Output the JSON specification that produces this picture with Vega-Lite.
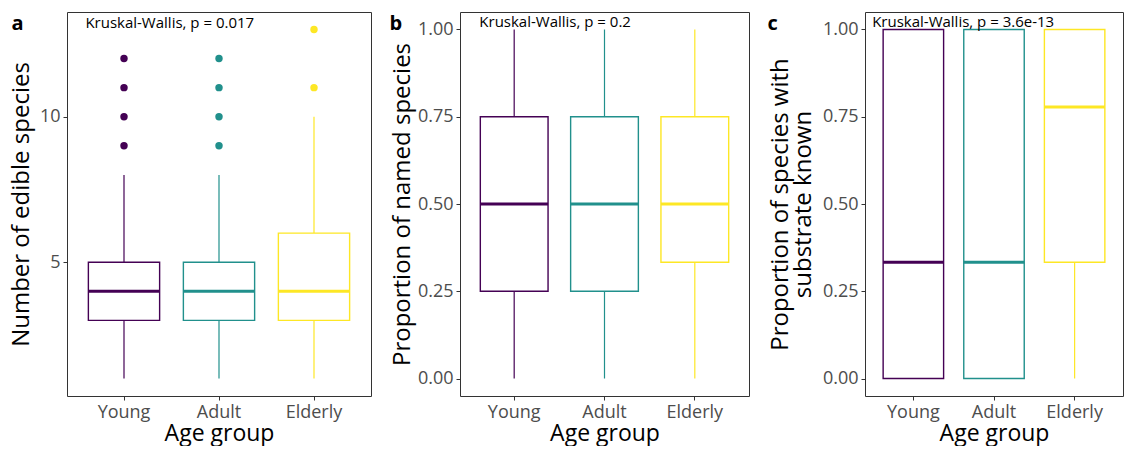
{
  "$schema": "https://vega.github.io/schema/vega-lite/v6.json",
  "padding": {"left": 8, "top": 11, "right": 0, "bottom": 0},
  "config": {
    "font": "Open Sans",
    "view": {"stroke": "#333333", "strokeWidth": 1},
    "axis": {"domain": false, "grid": false, "tickColor": "#333333", "tickSize": 4, "labelColor": "#4D4D4D", "labelFontSize": 18, "titleFontSize": 24, "titleFontWeight": "normal", "titleColor": "black", "labelFont": "Open Sans", "titleFont": "Open Sans", "labelPadding": 3},
    "axisX": {"titleFontSize": 23},
    "title": {"fontSize": 20, "fontWeight": "bold", "anchor": "start", "frame": "bounds", "offset": -22, "baseline": "top", "color": "black"},
    "concat": {"spacing": 16}
  },
  "datasets": {
    "boxA": [
      {"group": "Young", "lower": 1, "q1": 3, "median": 4, "q3": 5, "upper": 8},
      {"group": "Adult", "lower": 1, "q1": 3, "median": 4, "q3": 5, "upper": 8},
      {"group": "Elderly", "lower": 1, "q1": 3, "median": 4, "q3": 6, "upper": 10}
    ],
    "outA": [
      {"group": "Young", "value": 9}, {"group": "Young", "value": 10}, {"group": "Young", "value": 11}, {"group": "Young", "value": 12},
      {"group": "Adult", "value": 9}, {"group": "Adult", "value": 10}, {"group": "Adult", "value": 11}, {"group": "Adult", "value": 12},
      {"group": "Elderly", "value": 11}, {"group": "Elderly", "value": 13}
    ],
    "boxB": [
      {"group": "Young", "lower": 0, "q1": 0.25, "median": 0.5, "q3": 0.75, "upper": 1},
      {"group": "Adult", "lower": 0, "q1": 0.25, "median": 0.5, "q3": 0.75, "upper": 1},
      {"group": "Elderly", "lower": 0, "q1": 0.333, "median": 0.5, "q3": 0.75, "upper": 1}
    ],
    "boxC": [
      {"group": "Young", "lower": 0, "q1": 0, "median": 0.333, "q3": 1, "upper": 1},
      {"group": "Adult", "lower": 0, "q1": 0, "median": 0.333, "q3": 1, "upper": 1},
      {"group": "Elderly", "lower": 0, "q1": 0.333, "median": 0.778, "q3": 1, "upper": 1}
    ]
  },
  "hconcat": [
    {
      "width": 304, "height": 384,
      "title": {"text": "a", "dx": 2},
      "layer": [
        {"data": {"name": "boxA"}, "mark": {"type": "rule", "strokeWidth": 1.2},
         "encoding": {
           "x": {"field": "group", "type": "nominal", "sort": ["Young", "Adult", "Elderly"], "scale": {"domain": ["Young", "Adult", "Elderly"], "paddingInner": 0.25, "paddingOuter": 0.225}, "axis": {"title": "Age group", "labelAngle": 0, "titlePadding": 1}},
           "y": {"field": "lower", "type": "quantitative", "scale": {"domain": [0.4, 13.6], "nice": false, "zero": false}, "axis": {"title": "Number of edible species", "values": [5, 10], "titlePadding": 6}},
           "y2": {"field": "upper"},
           "color": {"field": "group", "type": "nominal", "scale": {"domain": ["Young", "Adult", "Elderly"], "range": ["#440154", "#21908C", "#FDE725"]}, "legend": null}
         }},
        {"data": {"name": "boxA"}, "mark": {"type": "bar", "fill": "white", "strokeWidth": 1.4},
         "encoding": {
           "x": {"field": "group", "type": "nominal", "sort": ["Young", "Adult", "Elderly"]},
           "y": {"field": "q1", "type": "quantitative"},
           "y2": {"field": "q3"},
           "stroke": {"field": "group", "type": "nominal", "scale": {"domain": ["Young", "Adult", "Elderly"], "range": ["#440154", "#21908C", "#FDE725"]}, "legend": null}
         }},
        {"data": {"name": "boxA"}, "mark": {"type": "tick", "thickness": 3, "opacity": 1},
         "encoding": {
           "x": {"field": "group", "type": "nominal", "sort": ["Young", "Adult", "Elderly"]},
           "y": {"field": "median", "type": "quantitative"},
           "color": {"field": "group", "type": "nominal", "legend": null}
         }},
        {"data": {"name": "outA"}, "mark": {"type": "circle", "size": 55, "opacity": 1},
         "encoding": {
           "x": {"field": "group", "type": "nominal", "sort": ["Young", "Adult", "Elderly"]},
           "y": {"field": "value", "type": "quantitative"},
           "color": {"field": "group", "type": "nominal", "legend": null}
         }},
        {"data": {"values": [{"label": "Kruskal-Wallis, p = 0.017"}]}, "mark": {"type": "text", "align": "left", "baseline": "middle", "fontSize": 15, "dx": -3, "color": "black"},
         "encoding": {
           "x": {"datum": "Young", "type": "nominal", "bandPosition": 0},
           "y": {"datum": 13.22, "type": "quantitative"},
           "text": {"field": "label"}
         }}
      ]
    },
    {
      "width": 289, "height": 384,
      "title": {"text": "b", "dx": -1},
      "layer": [
        {"data": {"name": "boxB"}, "mark": {"type": "rule", "strokeWidth": 1.2},
         "encoding": {
           "x": {"field": "group", "type": "nominal", "sort": ["Young", "Adult", "Elderly"], "scale": {"domain": ["Young", "Adult", "Elderly"], "paddingInner": 0.25, "paddingOuter": 0.225}, "axis": {"title": "Age group", "labelAngle": 0, "titlePadding": 1}},
           "y": {"field": "lower", "type": "quantitative", "scale": {"domain": [-0.05, 1.05], "nice": false, "zero": false}, "axis": {"title": "Proportion of named species", "values": [0, 0.25, 0.5, 0.75, 1], "format": ".2f", "titlePadding": 3}},
           "y2": {"field": "upper"},
           "color": {"field": "group", "type": "nominal", "scale": {"domain": ["Young", "Adult", "Elderly"], "range": ["#440154", "#21908C", "#FDE725"]}, "legend": null}
         }},
        {"data": {"name": "boxB"}, "mark": {"type": "bar", "fill": "white", "strokeWidth": 1.4},
         "encoding": {
           "x": {"field": "group", "type": "nominal", "sort": ["Young", "Adult", "Elderly"]},
           "y": {"field": "q1", "type": "quantitative"},
           "y2": {"field": "q3"},
           "stroke": {"field": "group", "type": "nominal", "scale": {"domain": ["Young", "Adult", "Elderly"], "range": ["#440154", "#21908C", "#FDE725"]}, "legend": null}
         }},
        {"data": {"name": "boxB"}, "mark": {"type": "tick", "thickness": 3, "opacity": 1},
         "encoding": {
           "x": {"field": "group", "type": "nominal", "sort": ["Young", "Adult", "Elderly"]},
           "y": {"field": "median", "type": "quantitative"},
           "color": {"field": "group", "type": "nominal", "legend": null}
         }},
        {"data": {"values": [{"label": "Kruskal-Wallis, p = 0.2"}]}, "mark": {"type": "text", "align": "left", "baseline": "middle", "fontSize": 15, "dx": -1, "color": "black"},
         "encoding": {
           "x": {"datum": "Young", "type": "nominal", "bandPosition": 0},
           "y": {"datum": 1.02, "type": "quantitative"},
           "text": {"field": "label"}
         }}
      ]
    },
    {
      "width": 258, "height": 384,
      "title": {"text": "c", "dx": -1},
      "layer": [
        {"data": {"name": "boxC"}, "mark": {"type": "rule", "strokeWidth": 1.2},
         "encoding": {
           "x": {"field": "group", "type": "nominal", "sort": ["Young", "Adult", "Elderly"], "scale": {"domain": ["Young", "Adult", "Elderly"], "paddingInner": 0.25, "paddingOuter": 0.225}, "axis": {"title": "Age group", "labelAngle": 0, "titlePadding": 1}},
           "y": {"field": "lower", "type": "quantitative", "scale": {"domain": [-0.05, 1.05], "nice": false, "zero": false}, "axis": {"title": ["Proportion of species with", "substrate known"], "titleLineHeight": 23, "values": [0, 0.25, 0.5, 0.75, 1], "format": ".2f", "titlePadding": 7}},
           "y2": {"field": "upper"},
           "color": {"field": "group", "type": "nominal", "scale": {"domain": ["Young", "Adult", "Elderly"], "range": ["#440154", "#21908C", "#FDE725"]}, "legend": null}
         }},
        {"data": {"name": "boxC"}, "mark": {"type": "bar", "fill": "white", "strokeWidth": 1.4},
         "encoding": {
           "x": {"field": "group", "type": "nominal", "sort": ["Young", "Adult", "Elderly"]},
           "y": {"field": "q1", "type": "quantitative"},
           "y2": {"field": "q3"},
           "stroke": {"field": "group", "type": "nominal", "scale": {"domain": ["Young", "Adult", "Elderly"], "range": ["#440154", "#21908C", "#FDE725"]}, "legend": null}
         }},
        {"data": {"name": "boxC"}, "mark": {"type": "tick", "thickness": 3, "opacity": 1},
         "encoding": {
           "x": {"field": "group", "type": "nominal", "sort": ["Young", "Adult", "Elderly"]},
           "y": {"field": "median", "type": "quantitative"},
           "color": {"field": "group", "type": "nominal", "legend": null}
         }},
        {"data": {"values": [{"label": "Kruskal-Wallis, p = 3.6e-13"}]}, "mark": {"type": "text", "align": "left", "baseline": "middle", "fontSize": 15, "dx": -11, "color": "black"},
         "encoding": {
           "x": {"datum": "Young", "type": "nominal", "bandPosition": 0},
           "y": {"datum": 1.02, "type": "quantitative"},
           "text": {"field": "label"}
         }}
      ]
    }
  ]
}
